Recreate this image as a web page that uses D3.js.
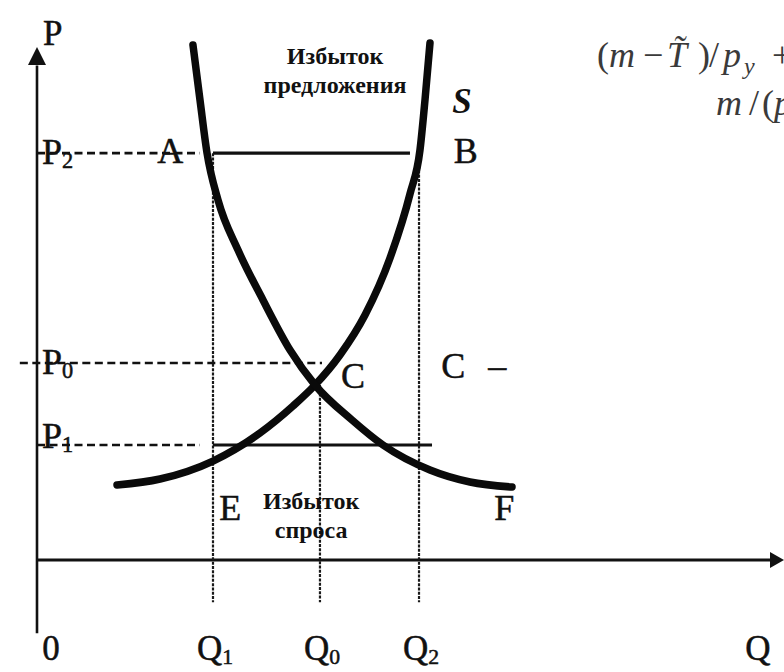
<!DOCTYPE html>
<meta charset="utf-8">
<title>Избыток предложения и спроса</title>
<style>

body {
  margin: 0;
  background: #fff;
}
svg { display: block; }
text {
  font-family: "Liberation Serif", "DejaVu Serif", serif;
  fill: #111;
}
text.lbl {
  stroke: #111;
  stroke-width: 0.5;
}

</style>
<body>
</body>
<script src="https://cdn.jsdelivr.net/npm/d3@7"></script>
<script>

var width = 784,
    height = 672;

// curves as [Q, P]
var supply = [
  [10.71, 14.56], [16.47, 15.73], [23.56, 19.22], [29.85, 24.66],
  [34.27, 29.90], [37.22, 33.98], [40.56, 39.81], [43.91, 47.57],
  [47.26, 58.64], [49.93, 71.07], [51.27, 79.61], [51.94, 89.32],
  [52.61, 100.4]
];
var demand = [
  [20.88, 100.0], [21.82, 89.32], [22.76, 79.03], [24.23, 69.90],
  [26.91, 60.19], [30.25, 50.49], [33.87, 40.78], [37.22, 33.98],
  [42.17, 27.18], [46.32, 22.33], [52.61, 17.48], [57.96, 15.15],
  [63.59, 14.17]
];

// price levels P2, P0, P1 and quantity levels Q1, Q0, Q2
var priceNames = ["2", "0", "1"];
var priceValues = [79.0, 38.25, 22.33];
var qtyNames = ["1", "0", "2"];
var qtyValues = [23.56, 37.88, 51.14];

// guide segments [from, to, level]
var dashedSegs = [[0, 21.8, 79.0], [-2.3, 38.15, 38.25], [0, 21.8, 22.33]];
var solidSegs = [[23.56, 49.93, 79.0], [23.56, 52.88, 22.33]];
// vertical dotted [Q, from P, to P]
var dottedSegs = [[23.56, 79.0, -8.2], [37.88, 34.0, -8.2], [51.14, 79.0, -8.2]];

// point letters [name, Q, P]
var pointNames = ["A", "B", "C", "C", "–", "E", "F"];
var pointPos = [[16.1, 77.1], [55.8, 77.1], [40.7, 33.4], [54.1, 35.3],
                [60.4, 35.3], [24.4, 7.77], [61.2, 7.77]];

var noteLines = [["Избыток", "предложения"], ["Избыток", "спроса"]];
var notePos = [[39.9, 96.3], [36.7, 9.9]];

var x = d3.scaleLinear().domain([0, 100]).range([37, 784]);
var y = d3.scaleLinear().domain([0, 100]).range([560, 45]);

var svg = d3.select("body").append("svg")
    .attr("width", width)
    .attr("height", height);

// axes
svg.append("line")
    .attr("x1", x(0)).attr("y1", y(-14.2))
    .attr("x2", x(0)).attr("y2", y(96))
    .attr("stroke", "#111").attr("stroke-width", 2.6);
svg.append("path")
    .attr("d", "M" + x(0) + "," + y(99.6) + "l-9,18h18z")
    .attr("fill", "#111");
svg.append("line")
    .attr("x1", x(0)).attr("y1", y(0))
    .attr("x2", x(98.5)).attr("y2", y(0))
    .attr("stroke", "#111").attr("stroke-width", 3.2);
svg.append("path")
    .attr("d", "M" + x(100) + "," + y(0) + "l-14,-8v16z")
    .attr("fill", "#111");

// dashed guides
svg.selectAll(".dash").data(dashedSegs).enter().append("line")
    .attr("class", "dash")
    .attr("x1", function(d) { return x(d[0]); })
    .attr("x2", function(d) { return x(d[1]); })
    .attr("y1", function(d) { return y(d[2]); })
    .attr("y2", function(d) { return y(d[2]); })
    .attr("stroke", "#111").attr("stroke-width", 2.6)
    .attr("stroke-dasharray", "8,4.5");

svg.selectAll(".solid").data(solidSegs).enter().append("line")
    .attr("class", "solid")
    .attr("x1", function(d) { return x(d[0]); })
    .attr("x2", function(d) { return x(d[1]); })
    .attr("y1", function(d) { return y(d[2]); })
    .attr("y2", function(d) { return y(d[2]); })
    .attr("stroke", "#111").attr("stroke-width", 3.2);

svg.selectAll(".dot").data(dottedSegs).enter().append("line")
    .attr("class", "dot")
    .attr("x1", function(d) { return x(d[0]); })
    .attr("x2", function(d) { return x(d[0]); })
    .attr("y1", function(d) { return y(d[1]); })
    .attr("y2", function(d) { return y(d[2]); })
    .attr("stroke", "#1a1a1a").attr("stroke-width", 2.2)
    .attr("stroke-dasharray", "3,1.3");

// curves
var line = d3.line()
    .x(function(d) { return x(d[0]); })
    .y(function(d) { return y(d[1]); })
    .curve(d3.curveMonotoneX);

[supply, demand].forEach(function(c) {
  svg.append("path")
      .attr("d", line(c))
      .attr("fill", "none")
      .attr("stroke", "#0a0a0a")
      .attr("stroke-width", 7.5)
      .attr("stroke-linecap", "round");
});

// labels with subscripts
function subLabel(px, py, main, sub, size, anchor) {
  var t = svg.append("text")
      .attr("class", "lbl")
      .attr("x", px).attr("y", py)
      .attr("font-size", size)
      .attr("text-anchor", anchor || "start");
  t.append("tspan").text(main);
  if (sub) {
    t.append("tspan")
        .attr("font-size", size * 0.62)
        .attr("dy", size * 0.1)
        .text(sub);
  }
  return t;
}

subLabel(x(0) + 6, 45, "P", null, 35);
var pLabelDy = [11, 11, 3];
priceNames.forEach(function(n, i) {
  subLabel(x(0) + 5, y(priceValues[i]) + pLabelDy[i], "P", n, 36);
});

subLabel(x(0.7), 660, "0", null, 35);
qtyNames.forEach(function(n, i) {
  subLabel(x(qtyValues[i]) - 16, 660, "Q", n, 35);
});
subLabel(x(94.8), 660, "Q", null, 35);

pointNames.forEach(function(n, i) {
  subLabel(x(pointPos[i][0]), y(pointPos[i][1]), n, null, 36);
});

svg.append("text")
    .attr("x", x(55.6)).attr("y", y(86.8))
    .attr("font-size", 35)
    .attr("font-weight", "bold")
    .attr("font-style", "italic")
    .text("S");

noteLines.forEach(function(lines, i) {
  lines.forEach(function(s, j) {
    svg.append("text")
        .attr("x", x(notePos[i][0]))
        .attr("y", y(notePos[i][1]) + j * 29)
        .attr("text-anchor", "middle")
        .attr("font-size", 24)
        .attr("font-weight", "bold")
        .attr("fill", "#222")
        .text(s);
  });
});

// formula fragment cut at the right edge
function formula(ty, parts) {
  var t = svg.append("text")
      .attr("y", ty)
      .attr("font-size", 36)
      .style("fill", "#3a3a3a");
  parts.forEach(function(p) {
    var s = t.append("tspan").attr("x", p[0]).text(p[1]);
    if (p[2] == "i") s.attr("font-style", "italic");
    if (p[2] == "s") s.attr("font-style", "italic").attr("font-size", 24).attr("y", ty + 7);
    if (p[2] != "s") s.attr("y", ty);
  });
}
formula(67, [[597, "("], [609, "m", "i"], [643, "\u2212"], [667, "T\u0303", "i"],
             [698, ")"], [709, "/"], [723, "p", "i"], [744, "y", "s"], [772, "+"]]);
formula(115, [[716, "m", "i"], [749, "/"], [762, "("], [774, "p", "i"]]);

</script>
